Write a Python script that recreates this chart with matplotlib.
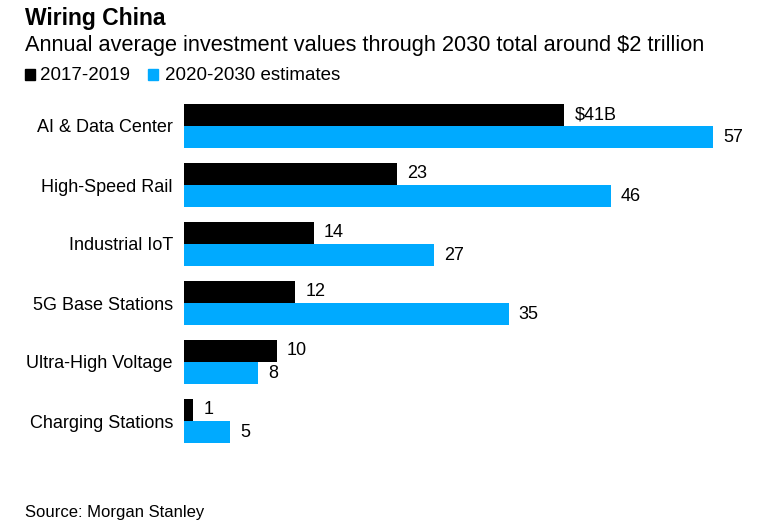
import matplotlib.pyplot as plt
import numpy as np

plt.rcParams['font.family'] = ['Liberation Sans', 'DejaVu Sans']

###########################
# data
###########################
categories = ['AI & Data Center', 'High-Speed Rail', 'Industrial IoT',
              '5G Base Stations', 'Ultra-High Voltage', 'Charging Stations']
past = [41, 23, 14, 12, 10, 1]          # 2017-2019
future = [57, 46, 27, 35, 8, 5]         # 2020-2030 estimates
past_labels = ['$41B', '23', '14', '12', '10', '1']
future_labels = ['57', '46', '27', '35', '8', '5']

black = '#000000'
blue = '#00aaff'

fig = plt.figure(figsize=(7.64, 5.30), dpi=100)
ax = fig.add_axes([184 / 764, 1 - 450.5 / 530, 575 / 764, 354 / 530])

y = np.arange(len(categories))
h = 0.38
ax.barh(y - h / 2, past, height=h, color=black)
ax.barh(y + h / 2, future, height=h, color=blue)

for i in range(len(categories)):
    ax.text(past[i] + 1.1, y[i] - h / 2, past_labels[i], va='center', ha='left', fontsize=13)
    ax.text(future[i] + 1.1, y[i] + h / 2, future_labels[i], va='center', ha='left', fontsize=13)

ax.set_xlim(0, 62)
ax.set_ylim(5.5, -0.5)
ax.set_yticks(y)
ax.set_yticklabels(categories, fontsize=13)
ax.tick_params(axis='y', length=0, pad=8)
ax.set_xticks([])
for s in ax.spines.values():
    s.set_visible(False)

# header
fig.text(25 / 764, 1 - 19 / 530, 'Wiring China', fontsize=16.5, fontweight='bold', va='center', ha='left')
fig.text(25 / 764, 1 - 46 / 530, 'Annual average investment values through 2030 total around $2 trillion',
         fontsize=15.7, va='center', ha='left')

# legend
fig.patches.append(plt.Rectangle((25 / 764, 1 - 80 / 530), 10 / 764, 11 / 530, color=black, transform=fig.transFigure))
fig.text(40 / 764, 1 - 75 / 530, '2017-2019', fontsize=13.5, va='center', ha='left')
fig.patches.append(plt.Rectangle((148 / 764, 1 - 80 / 530), 10 / 764, 11 / 530, color=blue, transform=fig.transFigure))
fig.text(165 / 764, 1 - 75 / 530, '2020-2030 estimates', fontsize=13.5, va='center', ha='left')

fig.text(25 / 764, 1 - 513 / 530, 'Source: Morgan Stanley', fontsize=12, va='center', ha='left')

fig.savefig('out.png', dpi=100)
